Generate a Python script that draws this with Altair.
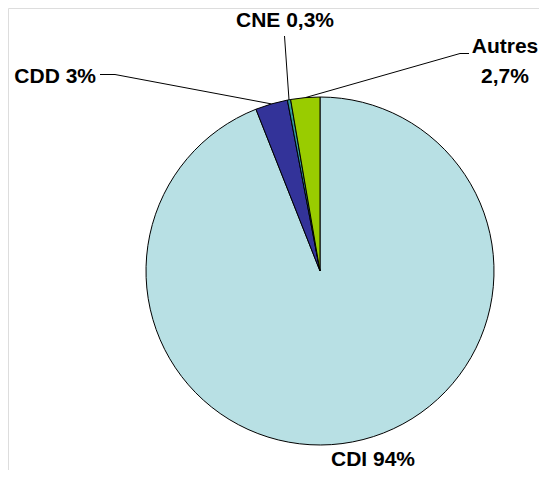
import math
import altair as alt
import pandas as pd

# ---- data ----
categories = ["CDI", "CDD", "CNE", "Autres"]
values = [94, 3, 0.3, 2.7]
labels = ["CDI 94%", "CDD 3%", "CNE 0,3%", "Autres\n2,7%"]
colors = ["#B8E0E4", "#333399", "#33999A", "#99CC00"]

# ---- layout (page pixels) ----
W, H = 531, 462          # drawing area
PX, PY = 8, 8            # page offset of the drawing area
CX, CY, R = 320, 271, 174  # pie centre and radius on the page
label_pos = {             # label anchor (x, baseline y), alignment
    "CDI": (373, 466, "center"),
    "CDD": (96, 83, "right"),
    "CNE": (285, 27, "center"),
    "Autres": (505, 53, "center"),
}
leader_bends = {          # extra points of leader lines after the pie edge
    "CDD": [(115, 74.5), (100, 74.5)],
    "CNE": [(284.5, 36)],
    "Autres": [(460, 53.5), (469, 53.5)],
}
FONT = "Liberation Sans"
FS = 21


def to_u(px):
    return (px - CX) / R


def to_v(py):
    return (CY - py) / R


cx, cy = CX - PX, CY - PY
xdom = [to_u(PX), to_u(PX + W)]
ydom = [to_v(PY + H), to_v(PY)]
xs = alt.Scale(domain=xdom, nice=False, zero=False)
ys = alt.Scale(domain=ydom, nice=False, zero=False)

df = pd.DataFrame({"cat": categories, "value": values, "idx": range(len(categories))})

total = sum(values)
cum = 0.0
mids = {}
for c, v in zip(categories, values):
    mids[c] = (cum + v / 2) / total * 2 * math.pi
    cum += v

rows = []
for c, pts in leader_bends.items():
    a = mids[c]
    seq = [(math.sin(a), math.cos(a))] + [(to_u(x), to_v(y)) for x, y in pts]
    for i, (u, v) in enumerate(seq):
        rows.append({"cat": c, "seq": i, "u": u, "v": v})
lines_df = pd.DataFrame(rows)

lab_rows = []
for c, l in zip(categories, labels):
    x, y, al = label_pos[c]
    lab_rows.append({"cat": c, "label": l, "u": to_u(x), "v": to_v(y), "align": al})
lab_df = pd.DataFrame(lab_rows)

pie = alt.Chart(df).mark_arc(outerRadius=R, stroke="black", strokeWidth=1).encode(
    theta=alt.Theta("value:Q", stack=True),
    order=alt.Order("idx:Q"),
    color=alt.Color("cat:N", scale=alt.Scale(domain=categories, range=colors), legend=None),
    x=alt.value(cx),
    y=alt.value(cy),
)

leaders = alt.Chart(lines_df).mark_line(color="black", strokeWidth=1).encode(
    x=alt.X("u:Q", scale=xs, axis=None),
    y=alt.Y("v:Q", scale=ys, axis=None),
    detail="cat:N",
    order="seq:Q",
)

text_common = dict(font=FONT, fontSize=FS, fontWeight="bold", color="black",
                   baseline="alphabetic", lineBreak="\n", lineHeight=30)

text_c = alt.Chart(lab_df).transform_filter(alt.datum.align == "center").mark_text(
    align="center", **text_common
).encode(
    x=alt.X("u:Q", scale=xs, axis=None),
    y=alt.Y("v:Q", scale=ys, axis=None),
    text="label:N",
)
text_r = alt.Chart(lab_df).transform_filter(alt.datum.align == "right").mark_text(
    align="right", **text_common
).encode(
    x=alt.X("u:Q", scale=xs, axis=None),
    y=alt.Y("v:Q", scale=ys, axis=None),
    text="label:N",
)

chart = alt.layer(pie, leaders, text_c, text_r).properties(
    width=W, height=H, padding=0, autosize=alt.AutoSizeParams(type="none")
).configure_view(stroke=None).configure(background="white")

chart.save("out.html", embed_options={"renderer": "svg", "actions": False})
